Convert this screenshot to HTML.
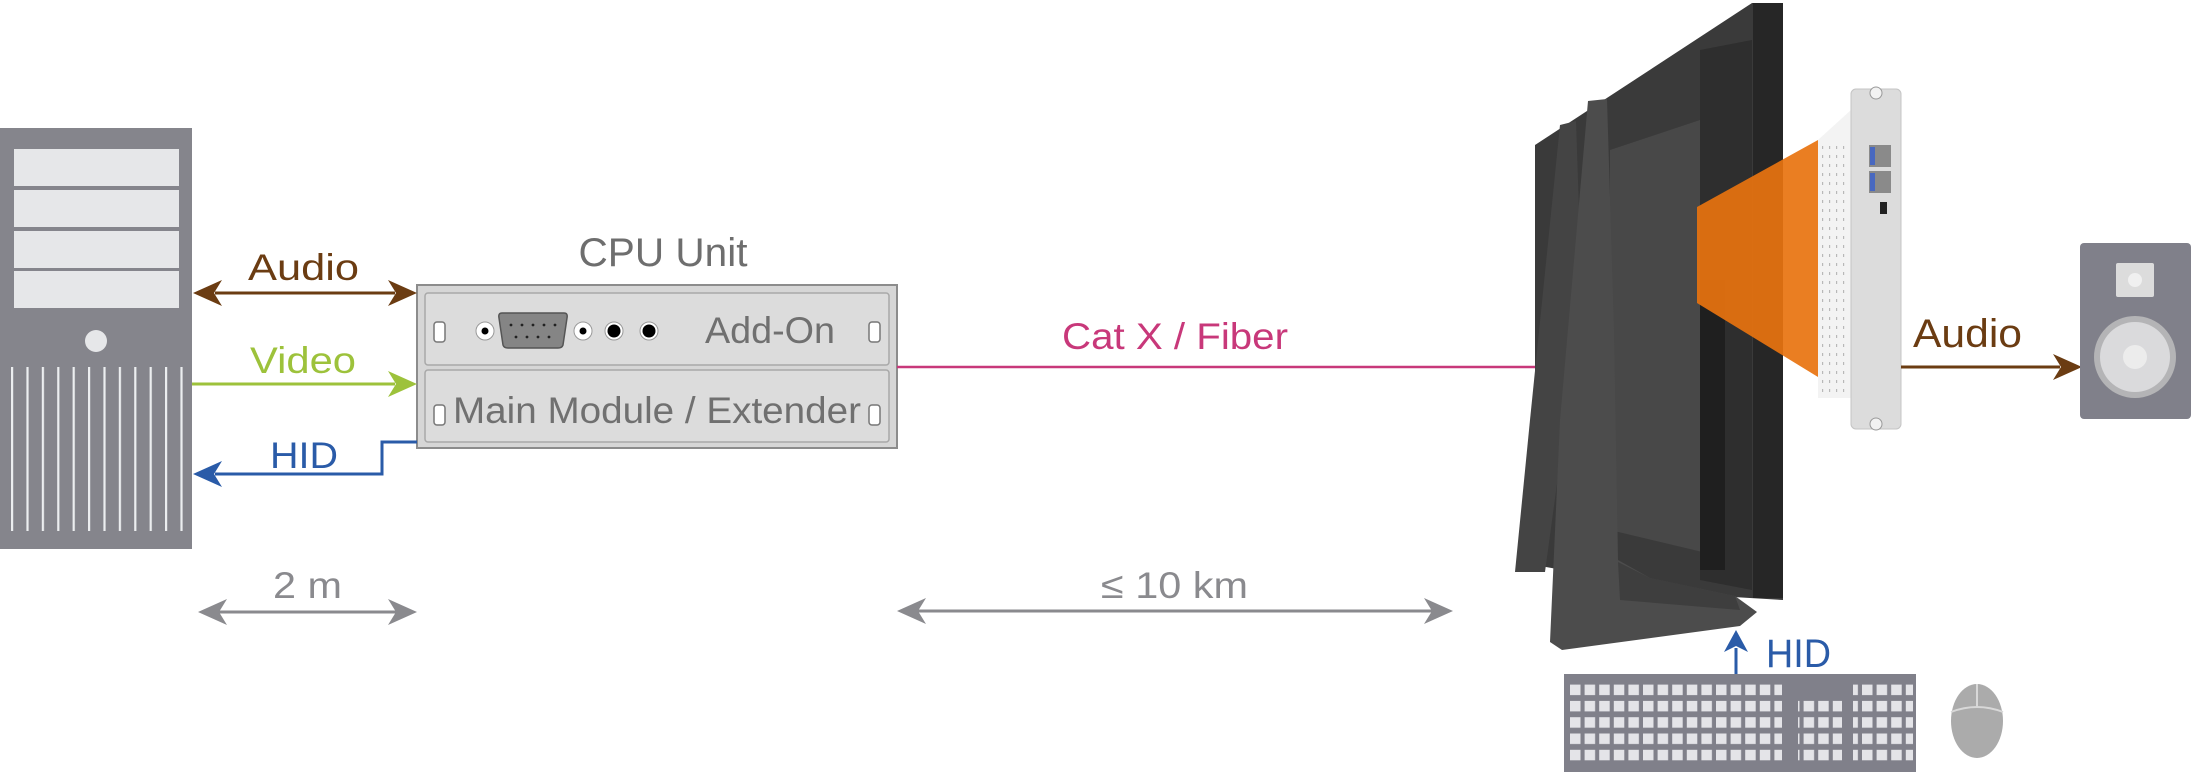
<!DOCTYPE html>
<html><head><meta charset="utf-8"><style>
html,body{margin:0;padding:0;background:#fff;}
svg{display:block;}
text{font-family:"Liberation Sans",sans-serif;}
</style></head><body>
<svg width="2191" height="772" viewBox="0 0 2191 772" xmlns="http://www.w3.org/2000/svg">
<defs>
<pattern id="vent" x="11" y="0" width="15.4" height="10" patternUnits="userSpaceOnUse"><rect x="0" y="0" width="2.2" height="10" fill="#eceef0"/></pattern>
<pattern id="keys" x="1570" y="0" width="14.6" height="16.3" patternUnits="userSpaceOnUse"><rect x="0" y="0" width="10.5" height="10.5" fill="#e4e4e8"/></pattern>
<pattern id="dots" x="0" y="0" width="7" height="9" patternUnits="userSpaceOnUse"><rect x="2" y="2" width="1.2" height="3" fill="#b8b8b8"/></pattern>
</defs>

<!-- PC tower -->
<rect x="0" y="128" width="192" height="421" fill="#85858c"/>
<rect x="14" y="149" width="165" height="37" fill="#e6e7e9"/>
<rect x="14" y="190" width="165" height="37" fill="#e6e7e9"/>
<rect x="14" y="231" width="165" height="37" fill="#e6e7e9"/>
<rect x="14" y="271" width="165" height="37" fill="#e6e7e9"/>
<ellipse cx="96" cy="341" rx="11" ry="11" fill="#e6e7e9"/>
<rect x="11" y="367" width="175" height="164" fill="url(#vent)"/>

<!-- CPU unit -->
<text x="663" y="266" font-size="40" fill="#6e6e6e" text-anchor="middle" textLength="169" lengthAdjust="spacingAndGlyphs">CPU Unit</text>
<rect x="417" y="285" width="480" height="163" fill="#d6d6d6" stroke="#8c8c8c" stroke-width="2"/>
<rect x="425" y="293" width="464" height="72" rx="3" fill="#dcdcdc" stroke="#a8a8a8" stroke-width="1.5"/>
<rect x="425" y="370" width="464" height="72" rx="3" fill="#dcdcdc" stroke="#a8a8a8" stroke-width="1.5"/>
<rect x="434" y="322" width="11" height="20" rx="3" fill="#fff" stroke="#777" stroke-width="1.5"/>
<rect x="869" y="322" width="11" height="20" rx="3" fill="#fff" stroke="#777" stroke-width="1.5"/>
<rect x="434" y="405" width="11" height="20" rx="3" fill="#fff" stroke="#777" stroke-width="1.5"/>
<rect x="869" y="405" width="11" height="20" rx="3" fill="#fff" stroke="#777" stroke-width="1.5"/>
<circle cx="485" cy="331" r="9" fill="#fff" stroke="#999"/><circle cx="485" cy="331" r="3.5" fill="#000"/>
<path d="M502 313 H564 Q568 313 567 318 L563 345 Q562 348 558 348 H508 Q504 348 503 345 L499 318 Q498 313 502 313Z" fill="#858585" stroke="#555" stroke-width="1.5"/>
<g fill="#222"><circle cx="511" cy="325" r="1.4"/><circle cx="522" cy="325" r="1.4"/><circle cx="533" cy="325" r="1.4"/><circle cx="544" cy="325" r="1.4"/><circle cx="555" cy="325" r="1.4"/><circle cx="516" cy="337" r="1.4"/><circle cx="527" cy="337" r="1.4"/><circle cx="538" cy="337" r="1.4"/><circle cx="549" cy="337" r="1.4"/></g>
<circle cx="583" cy="331" r="9" fill="#fff" stroke="#999"/><circle cx="583" cy="331" r="3.5" fill="#000"/>
<circle cx="614" cy="331" r="9" fill="#fff" stroke="#999"/><circle cx="614" cy="331" r="6.5" fill="#000"/>
<circle cx="649" cy="331" r="9" fill="#fff" stroke="#999"/><circle cx="649" cy="331" r="6.5" fill="#000"/>
<text x="705" y="343" font-size="37" fill="#707070" textLength="130" lengthAdjust="spacingAndGlyphs">Add-On</text>
<text x="453" y="423" font-size="37" fill="#707070" textLength="408" lengthAdjust="spacingAndGlyphs">Main Module / Extender</text>

<!-- left connectors -->
<line x1="215" y1="293" x2="395" y2="293" stroke="#6b3c12" stroke-width="3"/>
<polygon points="193,293 222,280 214,293 222,306" fill="#6b3c12"/>
<polygon points="417,293 388,280 396,293 388,306" fill="#6b3c12"/>
<text x="248" y="280" font-size="37" fill="#6b3c12" textLength="111" lengthAdjust="spacingAndGlyphs">Audio</text>
<line x1="192" y1="384" x2="395" y2="384" stroke="#9dc23b" stroke-width="3"/>
<polygon points="417,384 388,371 396,384 388,397" fill="#9dc23b"/>
<text x="250" y="373" font-size="37" fill="#9dc23b" textLength="106" lengthAdjust="spacingAndGlyphs">Video</text>
<polyline points="417,442 382,442 382,474 215,474" fill="none" stroke="#2a5ba8" stroke-width="3"/>
<polygon points="193,474 222,461 214,474 222,487" fill="#2a5ba8"/>
<text x="270" y="468" font-size="37" fill="#2a5ba8" textLength="68" lengthAdjust="spacingAndGlyphs">HID</text>
<line x1="218" y1="612" x2="397" y2="612" stroke="#8a8a8e" stroke-width="3"/>
<polygon points="198,612 227,599 219,612 227,625" fill="#8a8a8e"/>
<polygon points="417,612 388,599 396,612 388,625" fill="#8a8a8e"/>
<text x="273" y="598" font-size="37" fill="#8a8a8e" textLength="69" lengthAdjust="spacingAndGlyphs">2 m</text>

<!-- middle -->
<line x1="897" y1="367" x2="1545" y2="367" stroke="#c8387a" stroke-width="2.5"/>
<text x="1062" y="349" font-size="37" fill="#c8387a" textLength="226" lengthAdjust="spacingAndGlyphs">Cat X / Fiber</text>
<line x1="918" y1="611" x2="1432" y2="611" stroke="#8a8a8e" stroke-width="3"/>
<polygon points="897,611 926,598 918,611 926,624" fill="#8a8a8e"/>
<polygon points="1453,611 1424,598 1432,611 1424,624" fill="#8a8a8e"/>
<text x="1101" y="598" font-size="37" fill="#8a8a8e" textLength="147" lengthAdjust="spacingAndGlyphs">≤ 10 km</text>

<!-- monitor -->
<polygon points="1752,3 1535,145 1535,565 1700,595 1783,600 1783,3" fill="#3a3a3a"/>
<polygon points="1610,150 1700,120 1715,555 1610,530" fill="#484848"/>
<polygon points="1700,50 1752,40 1752,590 1700,580" fill="#2e2e2e"/>
<rect x="1753" y="3" width="30" height="595" fill="#262626"/>
<rect x="1700" y="280" width="25" height="290" fill="#1f1f1f"/>
<polygon points="1560,125 1576,121 1582,300 1545,572 1515,572 1530,420" fill="#444"/>
<polygon points="1588,101 1607,99 1614,330 1618,560 1650,578 1735,596 1757,612 1740,626 1562,650 1550,642 1560,420" fill="#4c4c4c"/>
<polygon points="1618,562 1650,578 1735,596 1740,610 1620,600" fill="#3e3e3e"/>

<!-- OPS card & orange beam -->
<polygon points="1818,140 1851,110 1851,398 1818,398" fill="#f3f3f3"/>
<rect x="1820" y="140" width="30" height="255" fill="url(#dots)"/>
<polygon points="1697,207 1818,140 1818,377 1697,303" fill="#e8730f" opacity="0.92"/>
<rect x="1851" y="89" width="50" height="340" rx="5" fill="#dcdcdc" stroke="#c4c4c4"/>
<rect x="1869" y="145" width="22" height="22" fill="#8a8a8a"/><rect x="1870" y="147" width="5" height="18" fill="#4868c0"/>
<rect x="1869" y="171" width="22" height="22" fill="#8a8a8a"/><rect x="1870" y="173" width="5" height="18" fill="#4868c0"/>
<rect x="1880" y="202" width="7" height="12" fill="#222"/>
<circle cx="1876" cy="93" r="6" fill="#f2f2f2" stroke="#999"/><circle cx="1876" cy="424" r="6" fill="#f2f2f2" stroke="#999"/>

<!-- audio right -->
<line x1="1901" y1="367" x2="2060" y2="367" stroke="#6b3c12" stroke-width="3"/>
<polygon points="2082,367 2053,354 2061,367 2053,380" fill="#6b3c12"/>
<text x="1913" y="347" font-size="40" fill="#6b3c12" textLength="109" lengthAdjust="spacingAndGlyphs">Audio</text>
<rect x="2080" y="243" width="111" height="176" rx="4" fill="#80808a"/>
<rect x="2116" y="263" width="38" height="34" rx="2" fill="#dcdcdc"/>
<circle cx="2135" cy="280" r="7" fill="#f0f0f0"/>
<circle cx="2135" cy="357" r="41" fill="#b4b4b6"/>
<circle cx="2135" cy="357" r="35" fill="#dadadc"/>
<circle cx="2135" cy="357" r="12" fill="#ececec"/>

<!-- HID right -->
<line x1="1736" y1="674" x2="1736" y2="648" stroke="#2a5ba8" stroke-width="3"/>
<polygon points="1736,630 1724,652 1736,646 1748,652" fill="#2a5ba8"/>
<text x="1766" y="667" font-size="40" fill="#2a5ba8" textLength="65" lengthAdjust="spacingAndGlyphs">HID</text>
<rect x="1564" y="674" width="352" height="98" fill="#80808a"/>
<rect x="1570" y="682" width="212" height="84" fill="url(#keys)"/>
<rect x="1798" y="697" width="44" height="69" fill="url(#keys)"/>
<rect x="1853" y="682" width="60" height="84" fill="url(#keys)"/>

<!-- mouse -->
<ellipse cx="1977" cy="721" rx="26" ry="37" fill="#ababab"/>
<path d="M1951 712 Q1977 702 2003 712" fill="none" stroke="#d8d8d8" stroke-width="2"/>
<line x1="1977" y1="684" x2="1977" y2="707" stroke="#d8d8d8" stroke-width="2"/>
</svg>
</body></html>
